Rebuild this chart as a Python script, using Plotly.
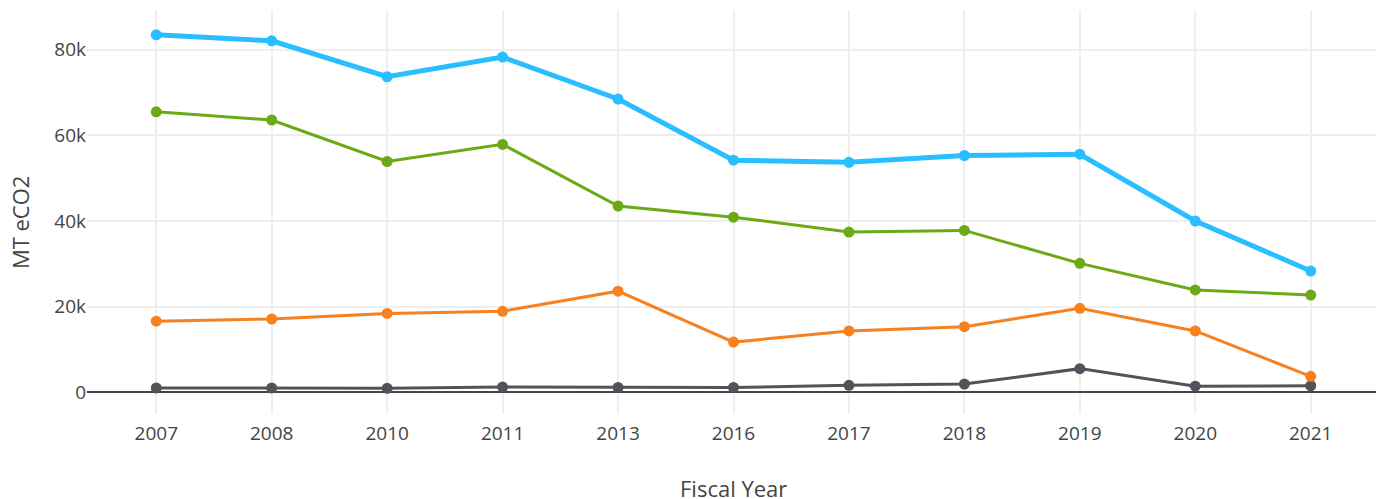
import plotly.graph_objects as go

years = ["2007", "2008", "2010", "2011", "2013", "2016", "2017", "2018", "2019", "2020", "2021"]
total = [83500, 82100, 73700, 78300, 68500, 54200, 53700, 55300, 55600, 40000, 28300]
green = [65500, 63600, 53900, 57900, 43500, 40900, 37400, 37800, 30100, 23900, 22700]
orange = [16600, 17100, 18400, 18900, 23600, 11700, 14300, 15300, 19600, 14300, 3700]
gray = [1000, 1000, 900, 1200, 1100, 1100, 1600, 1900, 5500, 1400, 1500]

series = [
    ("Gray", gray, "#4E545A", 3),
    ("Orange", orange, "#F7811E", 3),
    ("Green", green, "#6AAA14", 3),
    ("Total", total, "#29BEFF", 5),
]

fig = go.Figure()
for name, vals, color, w in series:
    fig.add_trace(go.Scatter(
        x=years, y=vals, name=name, mode="lines+markers",
        line=dict(color=color, width=w),
        marker=dict(color=color, size=11),
    ))

# page body has an 8px margin; figure is sized to fill the remaining window
fig.update_layout(
    width=1376, height=491,
    margin=dict(l=79, r=4, t=2, b=85),
    showlegend=False,
    paper_bgcolor="white", plot_bgcolor="white",
    font=dict(family="Open Sans", size=19, color="#444"),
    xaxis=dict(
        type="category", range=[-0.6, 10.6], automargin=False,
        showgrid=True, gridcolor="#eeeeee", gridwidth=1.5,
        ticks="", zeroline=False, ticklabelstandoff=6,
    ),
    yaxis=dict(
        range=[-5100, 89300], automargin=False,
        showgrid=True, gridcolor="#eeeeee", gridwidth=1.5,
        zeroline=True, zerolinecolor="#444", zerolinewidth=1.5,
        tickvals=[0, 20000, 40000, 60000, 80000],
        ticktext=["0", "20k", "40k", "60k", "80k"],
    ),
    annotations=[
        dict(text="Fiscal Year", xref="paper", yref="paper", x=0.5, y=-0.183,
             xanchor="center", yanchor="middle", showarrow=False,
             font=dict(size=22, color="#444")),
        dict(text="MT eCO2", xref="paper", yref="paper", x=-0.0518, y=0.475,
             xanchor="center", yanchor="middle", showarrow=False, textangle=-90,
             font=dict(size=22, color="#444")),
    ],
)

fig.write_html("out.html")
